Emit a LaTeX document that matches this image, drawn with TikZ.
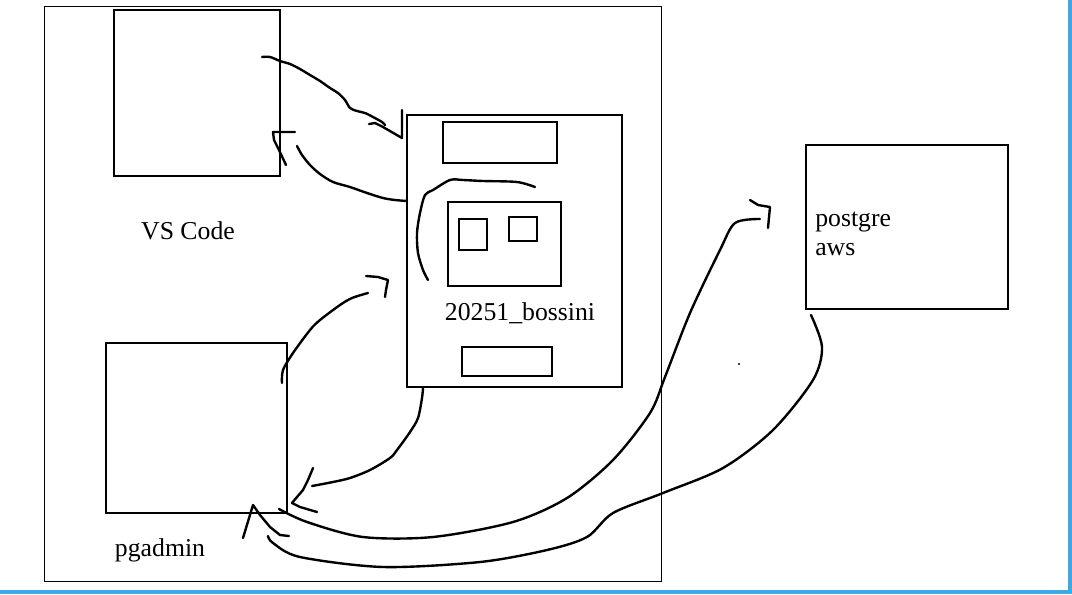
\documentclass[tikz,border=0pt]{standalone}
\usepackage{fontspec}
\setmainfont{Liberation Serif}
\definecolor{edgeblue}{RGB}{64,168,228}
\tikzset{
	box/.style={draw, line width=0.8pt, inner sep=0pt, outer sep=0pt},
	heavybox/.style={box, line width=1.4pt},
	stroke/.style={line width=1.7pt, line cap=round, line join=round},
	lbl/.style={inner sep=0pt, font=\fontsize{18.3}{21}\selectfont}
}

\begin{document}
\begin{tikzpicture}[x=0.025cm, y=-0.025cm]
	\useasboundingbox (0,0) rectangle (1072,594);
	\fill[edgeblue] (1068,0) rectangle (1072,594);
	\fill[edgeblue] (0,590) rectangle (1072,594);
	\node[box, minimum width=15.4cm, minimum height=14.35cm] (frame) at (353,294) {};
	\node[box, line width=1pt, minimum width=4.15cm, minimum height=4.15cm] (vscode) at (197,93) {};
	\node[box, minimum width=4.525cm, minimum height=4.25cm] (pgadmin) at (196.5,428) {};
	\node[heavybox, minimum width=5.375cm, minimum height=6.8cm] (bossini) at (514.5,251) {};
	\node[heavybox, minimum width=2.85cm, minimum height=1.025cm] (bossinitop) at (500,142.5) {};
	\node[box, minimum width=2.825cm, minimum height=2.1cm] (bossinimid) at (504.5,244) {};
	\node[heavybox, minimum width=0.7cm, minimum height=0.775cm] (sqleft) at (473,234.5) {};
	\node[heavybox, minimum width=0.7cm, minimum height=0.6cm] (sqright) at (523,229) {};
	\node[heavybox, minimum width=2.25cm, minimum height=0.725cm] (bossinibot) at (507,361.5) {};
	\node[heavybox, minimum width=5.05cm, minimum height=4.1cm] (postgre) at (907,227) {};
	\node[lbl, anchor=base] (vscodelbl) at (188,239) {VS Code};
	\node[lbl, anchor=base] (pgadminlbl) at (160,556) {pgadmin};
	\node[lbl, anchor=base] (bossinilbl) at (520,320) {20251\_bossini};
	\node[lbl, anchor=base west] (postgrelbl) at (815,226) {postgre};
	\node[lbl, anchor=base west] (awslbl) at (815,255) {aws};
	\fill (739,364) circle (0.03cm);
	\draw[stroke] plot[smooth] coordinates {(262,57) (270,57) (280,61) (290,64) (300,69) (310,75) (320,81) (330,88) (338,93) (345,100) (350,108) (357,111) (365,113) (373,117) (382,122) (385,125)};
	\draw[stroke] (369,124) -- (375,123) -- (383,127) -- (402,138) -- (402,110);
	\draw[stroke] plot[smooth] coordinates {(407,201) (395,200) (383,198) (367,193) (350,187) (333,182) (320,174) (310,165) (302,155) (297,146)};
	\draw[stroke] (295,132) -- (273,132) -- (274,140) -- (279,150) -- (286,165);
	\draw[stroke] plot[smooth] coordinates {(428,280) (423,270) (418,253) (417,233) (420,213) (425,195) (433,190) (450,180) (463,180) (483,181) (517,182) (535,187)};
	\draw[stroke] plot[smooth] coordinates {(282,383) (283,370) (293,353) (310,330) (320,320) (340,305) (352,298) (368,293)};
	\draw[stroke] (366,276) -- (378,277) -- (388,280) -- (386,290) -- (385,297);
	\draw[stroke] plot[smooth] coordinates {(423,388) (422,398) (418,418) (410,432) (397,450) (390,458) (370,470) (350,478) (333,482) (312,486)};
	\draw[stroke] (313,468) -- (308,480) -- (303,490) -- (297,497) -- (292,503) -- (300,507) -- (317,512);
	\draw[stroke] plot[smooth] coordinates {(279,509) (307,522) (363,537) (433,537) (513,522) (567,498) (613,460) (650,413) (665,377) (690,313) (720,250) (735,223) (760,219)};
	\draw[stroke] (750,200) -- (758,205) -- (770,207) -- (768,228);
	\draw[stroke] plot[smooth] coordinates {(811,315) (822,347) (813,380) (773,430) (723,468) (663,493) (613,513) (587,537) (547,550) (480,562) (383,567) (300,557) (273,543) (268,536)};
	\draw[stroke] (243,538) -- (253,505) -- (260,515) -- (270,527) -- (280,535) -- (289,536);
\end{tikzpicture}
\end{document}
